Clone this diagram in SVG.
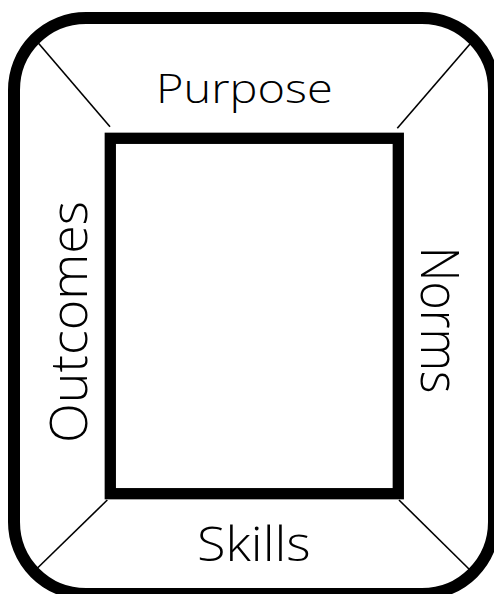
<svg xmlns="http://www.w3.org/2000/svg" width="494" height="594" viewBox="0 0 494 594">
<style>
.frame{fill:none;stroke:#000;stroke-width:12}
.inner{fill:none;stroke:#000;stroke-width:11.3}
.con{stroke:#000;stroke-width:1.6;fill:none}
.lbl{font-family:"Open Sans","Liberation Sans",sans-serif;font-weight:300;fill:#000}
</style>
<rect width="494" height="594" fill="#fff"/>
<g id="connectors">
<line class="con" x1="110" y1="126.7" x2="37" y2="41.5"/>
<line class="con" x1="397.3" y1="128.3" x2="470" y2="44"/>
<line class="con" x1="107.3" y1="500" x2="37" y2="568.5"/>
<line class="con" x1="399" y1="500" x2="470" y2="570"/>
</g>
<g id="outer">
<rect class="frame" x="14" y="18" width="480" height="576" rx="72" ry="72"/>
</g>
<g id="center">
<rect class="inner" x="110.3" y="138.3" width="288" height="355.4"/>
</g>
<g id="purpose">
<text class="lbl" x="156" y="102.7" font-size="41" textLength="176.7" lengthAdjust="spacingAndGlyphs">Purpose</text>
</g>
<g id="skills">
<text class="lbl" x="197" y="560.7" font-size="47" textLength="113.7" lengthAdjust="spacingAndGlyphs">Skills</text>
</g>
<g id="outcomes">
<text class="lbl" transform="translate(87.3,443) rotate(-90)" x="0" y="0" font-size="51" textLength="242" lengthAdjust="spacingAndGlyphs">Outcomes</text>
</g>
<g id="norms">
<text class="lbl" transform="translate(420.7,246.7) rotate(90)" x="0" y="0" font-size="54" textLength="146.7" lengthAdjust="spacingAndGlyphs">Norms</text>
</g>
</svg>
